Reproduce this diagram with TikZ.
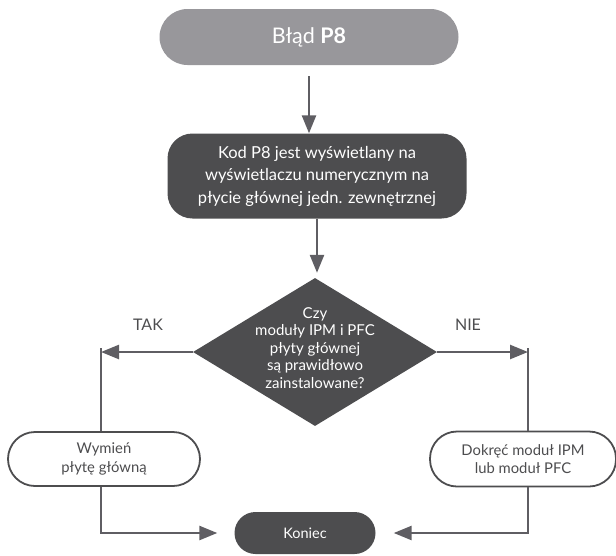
\documentclass[tikz,border=0pt]{standalone}
\usepackage{fontspec}
\setmainfont{Lato}
\usetikzlibrary{arrows.meta,shapes.geometric}
\definecolor{ciemny}{HTML}{4D4D4F}
\definecolor{szary}{HTML}{98979B}
\definecolor{linia}{HTML}{5F5E63}

\begin{document}
\begin{tikzpicture}[x=1pt,y=-1pt,>={Triangle[length=18pt,width=14pt]},
  krok/.style={fill=ciemny,text=white,align=center,inner sep=0pt},
  wynik/.style={draw=ciemny,line width=1.8pt,fill=white,text=ciemny,align=center,
    inner sep=0pt,font=\fontsize{14.8}{18.5}\selectfont},
  polacz/.style={draw=linia,line width=2.5pt}]
  \useasboundingbox (0,0) rectangle (616,555);
  % poczatek
  \node[krok,fill=szary,rounded corners=28pt,minimum width=299pt,minimum height=56pt,
    font=\fontsize{21.5}{24}\selectfont] (blad) at (309,37) {Błąd \textbf{P8}};
  % kod na wyswietlaczu
  \node[krok,rounded corners=25pt,minimum width=299pt,minimum height=85pt,
    font=\fontsize{16.5}{22.5}\selectfont] (kod) at (317,176)
    {Kod P8 jest wyświetlany na\\wyświetlaczu numerycznym na\\płycie głównej jedn. zewnętrznej};
  % pytanie
  \node[krok,diamond,minimum width=244pt,minimum height=148pt] (czy) at (315,352) {};
  \node[text=white,align=center,font=\fontsize{15}{17.5}\selectfont] (pyt) at ([yshift=4pt]czy.center)
    {Czy\\moduły IPM i PFC\\płyty głównej\\są prawidłowo\\zainstalowane?};
  \node[font=\fontsize{16}{18}\selectfont,text=ciemny] (tak) at (148,325) {TAK};
  \node[font=\fontsize{16}{18}\selectfont,text=ciemny] (nie) at (468,325) {NIE};
  \coordinate (lewy) at (101,352);
  \coordinate (prawy) at (528,352);
  % odpowiedzi
  \node[wynik,rounded corners=27pt,minimum width=192pt,minimum height=54pt] (wymien) at (104,459)
    {Wymień\\płytę główną};
  \node[wynik,rounded corners=27pt,minimum width=186pt,minimum height=55pt] (dokrec) at (523,459)
    {Dokręć moduł IPM\\lub moduł PFC};
  % koniec
  \node[krok,rounded corners=21pt,minimum width=141pt,minimum height=42pt,
    font=\fontsize{14.5}{16}\selectfont] (koniec) at (305,533) {Koniec};
  % strzalki
  \draw[polacz,->,shorten <=11pt] (blad.south) -- (blad.south |- kod.north);
  \draw[polacz,->,shorten >=5pt] (kod.south) -- (kod.south |- czy.north);
  \draw[polacz,->] (czy.west) -- (lewy);
  \draw[polacz,->] (czy.east) -- (prawy);
  \draw[polacz] ([yshift=4pt]lewy) -- (lewy |- wymien.north);
  \draw[polacz] ([yshift=4pt]prawy) -- (prawy |- dokrec.north);
  \draw[polacz,->,shorten >=17pt] (lewy |- wymien.south) |- (koniec.west);
  \draw[polacz,->,shorten >=18pt] (prawy |- dokrec.south) |- (koniec.east);
\end{tikzpicture}
\end{document}
